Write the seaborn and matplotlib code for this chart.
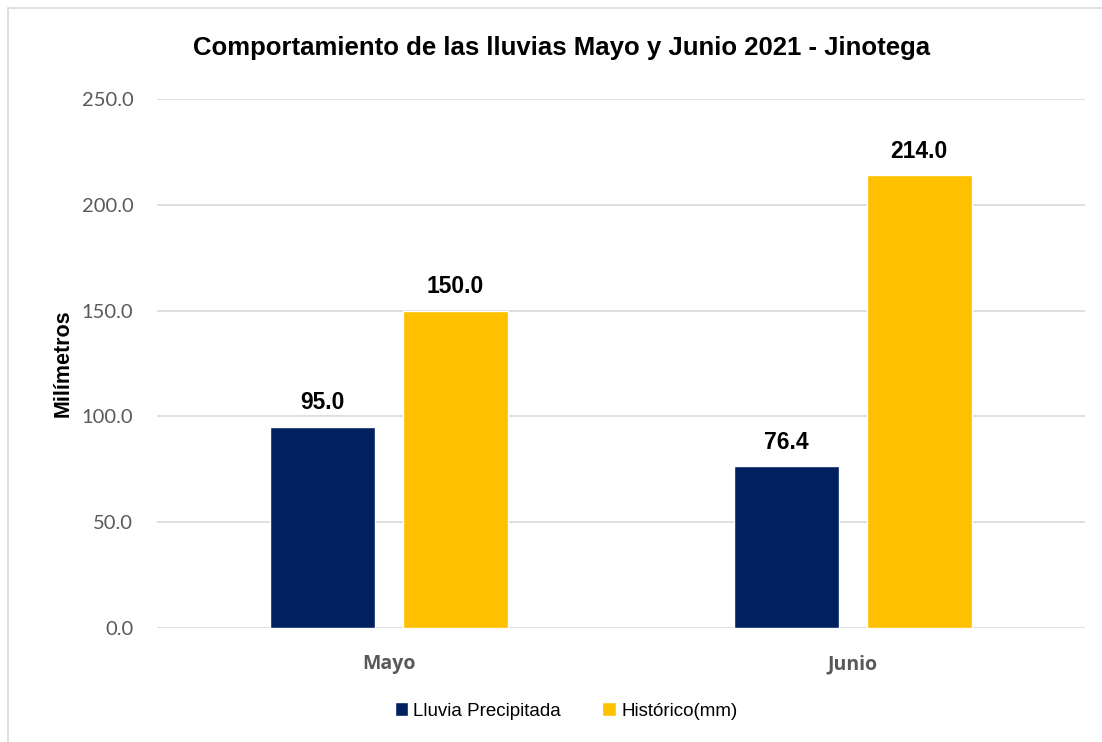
import pandas as pd
import matplotlib.pyplot as plt
import seaborn as sns
from matplotlib.lines import Line2D

meses = ["Mayo", "Junio"]
lluvia_precipitada = [95.0, 76.4]
historico = [150.0, 214.0]
series = ["Lluvia Precipitada", "Histórico(mm)"]
colores = ["#002060", "#FFC000"]

df = pd.DataFrame({
    "mes": meses * 2,
    "serie": [series[0]] * 2 + [series[1]] * 2,
    "valor": lluvia_precipitada + historico,
})

sns.set_style("white")
plt.rcParams["font.family"] = ["Liberation Sans", "DejaVu Sans"]
plt.rcParams["text.color"] = "black"

fig = plt.figure(figsize=(11.02, 7.42), dpi=100)
ax = fig.add_axes([157 / 1102, 1 - 628 / 742, 928 / 1102, (628 - 99) / 742])

sns.barplot(data=df, x="mes", y="valor", hue="serie", palette=colores,
            width=0.571, gap=0.209, saturation=1, ax=ax, legend=True)

ax.set_xlim(-0.5, 1.5)
ax.set_ylim(0, 250)
ax.set_yticks([0, 50, 100, 150, 200, 250])
ax.set_yticklabels([f"{v:.1f}" for v in ax.get_yticks()],
                   fontsize=14.5, color="#595959", family="Lato")
ax.set_xticks([0, 1])
ax.set_xticklabels(meses, fontsize=14, color="#595959", family="Open Sans",
                   fontweight="bold")
ax.tick_params(axis="y", length=0, pad=17)
ax.tick_params(axis="x", length=0, pad=19)
ax.grid(axis="y", color="#d9d9d9", linewidth=1.2)
ax.set_axisbelow(True)
for s in ax.spines.values():
    s.set_visible(False)

ax.set_xlabel("")
ax.set_ylabel("Milímetros", fontsize=15.5, fontweight="bold", labelpad=6,
              color="black")

for cont in ax.containers:
    ax.bar_label(cont, fmt="%.1f", padding=9, fontsize=16.5, fontweight="bold",
                 color="black")

fig.suptitle("Comportamiento de las lluvias Mayo y Junio 2021 - Jinotega",
             x=562 / 1102, y=1 - 36 / 742, fontsize=18.5,
             fontweight="bold", va="top", color="black")

fig.legend(*ax.get_legend_handles_labels(), loc="center",
           bbox_to_anchor=(566 / 1102, 1 - 711 / 742), ncol=2,
           frameon=False, fontsize=13.5, handlelength=0.7, handleheight=0.7,
           handletextpad=0.3, columnspacing=2.2)
ax.get_legend().remove()

# borde del área del gráfico
fig.add_artist(Line2D([8 / 1102, 1], [1 - 8 / 742, 1 - 8 / 742],
                      transform=fig.transFigure, color="#d9d9d9", lw=1.2))
fig.add_artist(Line2D([8 / 1102, 8 / 1102], [0, 1 - 8 / 742],
                      transform=fig.transFigure, color="#d9d9d9", lw=1.2))

fig.savefig("out.png", dpi=100)
